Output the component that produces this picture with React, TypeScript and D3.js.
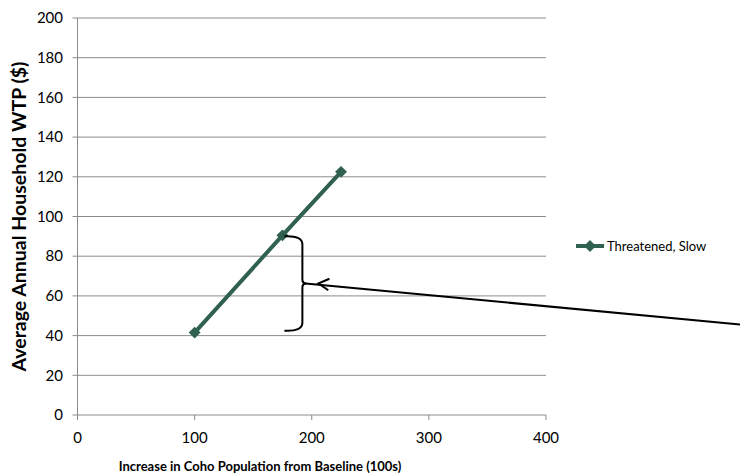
import React from "react";
import * as d3 from "d3";

const seriesName = "Threatened, Slow";
const xValues = [100, 175, 225];
const yValues = [41.5, 90.5, 122.5];
const xTicks = [0, 100, 200, 300, 400];
const yTicks = [0, 20, 40, 60, 80, 100, 120, 140, 160, 180, 200];
// bracket annotation: spans from the middle point down to the first point's level
const bracketX = 192;
const bracketTop = 90;
const bracketBottom = 42.5;
const arrowTail = [567, 45.5];

const W = 740;
const H = 475;
const lineColor = "#30604f";
const gridColor = "#8c8c8c";
const font = "Lato, 'DejaVu Sans', sans-serif";

export default function App() {
  const x = d3.scaleLinear().domain([0, 400]).range([77.5, 546]);
  const y = d3.scaleLinear().domain([0, 200]).range([415, 18]);

  const pts = xValues.map((v, i) => [x(v), y(yValues[i])] as [number, number]);
  const line = d3.line()(pts);

  const bx = x(bracketX);
  const by0 = y(bracketTop);
  const by1 = y(bracketBottom);
  const bm = (by0 + by1) / 2;
  const bracket = `M${bx - 18},${by0} Q${bx},${by0 - 1} ${bx},${by0 + 8} L${bx},${bm - 4} Q${bx},${bm} ${bx + 4},${bm} Q${bx},${bm} ${bx},${bm + 4} L${bx},${by1 - 8} Q${bx},${by1 + 1} ${bx - 18},${by1}`;

  const tipX = bx + 16;
  const tailX = x(arrowTail[0]);
  const tailY = y(arrowTail[1]);
  const ang = Math.atan2(tailY - bm, tailX - tipX);
  const head = (a: number) => [tipX + 12 * Math.cos(ang + a), bm + 12 * Math.sin(ang + a)];
  const h1 = head(0.5);
  const h2 = head(-0.5);

  const diamond = d3.symbol().type(d3.symbolDiamond2).size(90)();

  return (
    <svg width={W} height={H} style={{ position: "absolute", left: 0, top: 0, background: "#fff" }}>
      {yTicks.map((t) => (
        <g key={t}>
          <line x1={x(0) - 5} x2={x(400)} y1={y(t)} y2={y(t)} stroke={gridColor} strokeWidth={1} />
          <text x={63} y={y(t)} dy="0.35em" textAnchor="end" fontFamily={font} fontSize={15} fill="#000">
            {t}
          </text>
        </g>
      ))}
      <line x1={x(0)} x2={x(0)} y1={y(200)} y2={y(0)} stroke={gridColor} strokeWidth={1} />
      {xTicks.map((t) => (
        <g key={t}>
          <line x1={x(t)} x2={x(t)} y1={y(0)} y2={y(0) + 5} stroke={gridColor} strokeWidth={1} />
          <text x={x(t)} y={438} dy="0.35em" textAnchor="middle" fontFamily={font} fontSize={15} fill="#000">
            {t}
          </text>
        </g>
      ))}
      <text x={260} y={466} dy="0.35em" textAnchor="middle" fontFamily={font} fontSize={13} fontWeight="bold">
        Increase in Coho Population from Baseline (100s)
      </text>
      <text
        transform={`translate(19,${(y(200) + y(0)) / 2}) rotate(-90)`}
        dy="0.35em"
        textAnchor="middle"
        fontFamily={font}
        fontSize={19.5}
        fontWeight="bold"
      >
        Average Annual Household WTP ($)
      </text>

      <path d={line ?? ""} fill="none" stroke={lineColor} strokeWidth={4} />
      {pts.map((p, i) => (
        <path key={i} d={diamond ?? ""} transform={`translate(${p[0]},${p[1]})`} fill={lineColor} />
      ))}

      <path d={bracket} fill="none" stroke="#000" strokeWidth={2} />
      <line x1={bx + 3} y1={bm} x2={tailX} y2={tailY} stroke="#000" strokeWidth={2} />
      <polyline points={`${h1[0]},${h1[1]} ${tipX},${bm} ${h2[0]},${h2[1]}`} fill="none" stroke="#000" strokeWidth={2} />

      <g transform="translate(576,246)">
        <line x1={0} x2={28} y1={0} y2={0} stroke={lineColor} strokeWidth={4} />
        <path d={diamond ?? ""} transform="translate(14,0)" fill={lineColor} />
        <text x={31} y={0} dy="0.35em" fontFamily={font} fontSize={13}>
          {seriesName}
        </text>
      </g>
    </svg>
  );
}
